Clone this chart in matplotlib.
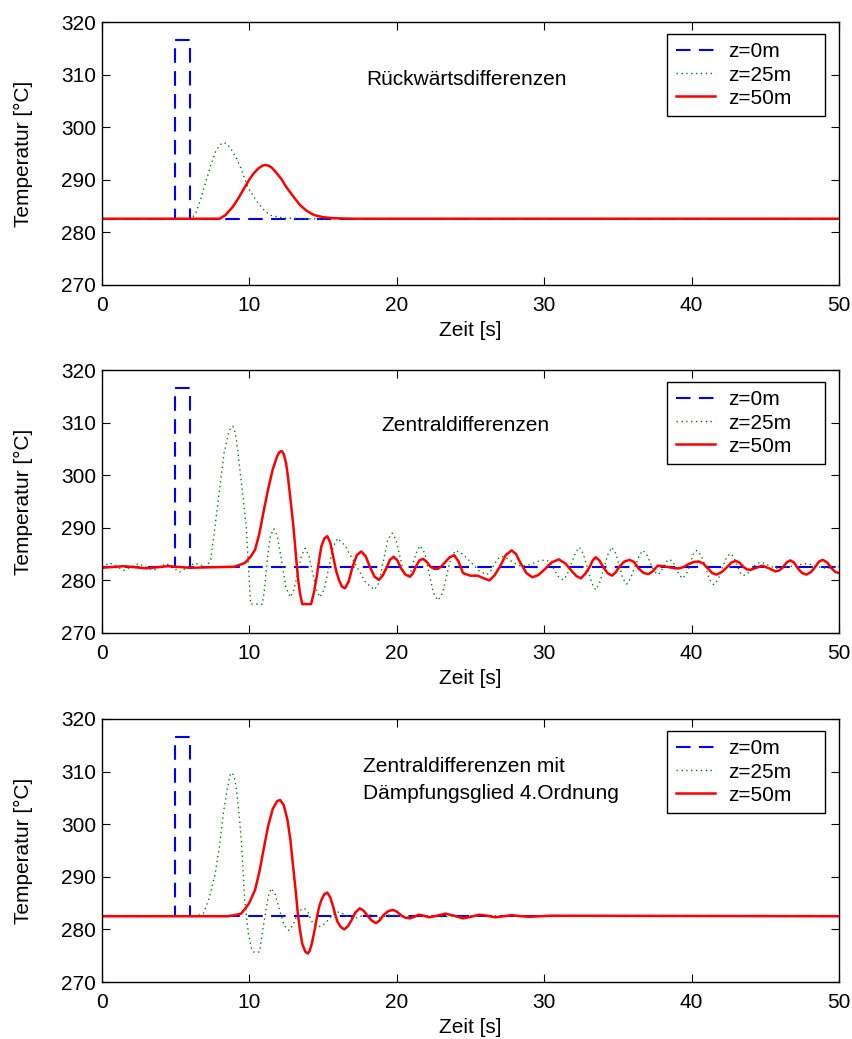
import matplotlib
matplotlib.use('Agg')
import matplotlib.pyplot as plt

# Temperaturverlauf an drei Orten, drei Diskretisierungsverfahren
plt.rcParams['font.family'] = ['Liberation Sans', 'DejaVu Sans']
plt.rcParams['font.size'] = 15

# z=0m: Rechteckimpuls (alle drei Verfahren gleich)
t_z0 = [0, 5, 5, 6, 6, 50]
T_z0 = [282.6, 282.6, 316.5, 316.5, 282.6, 282.6]

# --- Rueckwaertsdifferenzen ---
t1_z25 = [0, 6.1, 6.4, 6.7, 7.1, 7.4, 7.7, 8.0, 8.25, 8.5, 8.8, 9.1, 9.4, 9.9, 10.3,
          10.6, 11.0, 11.4, 12.0, 12.5, 14, 50]
T1_z25 = [282.6, 282.6, 283.8, 286.2, 290.0, 292.8, 295.2, 296.6, 297.1, 296.8, 295.7,
          294.3, 292.5, 288.7, 286.8, 285.6, 284.3, 283.3, 282.9, 282.7, 282.6, 282.6]
t1_z50 = [0, 8.0, 8.4, 8.9, 9.25, 9.6, 10.0, 10.3, 10.6, 10.9, 11.1, 11.3, 11.5, 11.8,
          12.2, 12.5, 13.0, 13.45, 13.9, 14.4, 15.0, 15.7, 17, 50]
T1_z50 = [282.6, 282.6, 283.3, 284.9, 286.4, 288.1, 290.0, 291.2, 292.1, 292.7, 292.8,
          292.7, 292.4, 291.5, 290.1, 288.7, 286.8, 285.2, 284.1, 283.3, 282.9, 282.7,
          282.6, 282.6]

# --- Zentraldifferenzen ---
t2_z25 = [0, 0.56, 1.5, 2.5, 3.5, 4.4, 5.3, 6.3, 7.1, 7.4, 7.7, 8.0, 8.3, 8.6, 8.75,
          8.9, 9.03, 9.15, 9.4, 9.6, 9.8, 9.95, 10.1, 10.9, 11.05, 11.25, 11.45, 11.67,
          11.9, 12.2, 12.5, 12.8, 13.05, 13.3, 13.55, 13.8, 14.05, 14.3, 14.55, 14.8,
          15.1, 15.4, 15.7, 16.0, 16.5, 17.2, 17.9, 18.5, 18.8, 19.1, 19.4, 19.7, 19.95,
          20.2, 20.45, 20.7, 20.95, 21.15, 21.4, 21.6, 21.9, 22.2, 22.5, 22.8, 23.1,
          23.4, 23.7, 24.0, 24.5, 25.05, 25.6, 26.1, 26.35, 26.6, 26.85, 27.1, 27.45,
          27.8, 28.15, 28.5, 28.9, 29.3, 29.7, 30.1, 30.4, 30.7, 31.0, 31.3, 31.55,
          31.85, 32.15, 32.4, 32.65, 32.95, 33.25, 33.5, 33.75, 34.05, 34.35, 34.6,
          34.85, 35.1, 35.35, 35.6, 35.85, 36.15, 36.45, 36.7, 36.95, 37.2, 37.45, 37.7,
          37.9, 38.1, 38.3, 38.5, 38.75, 38.95, 39.2, 39.4, 39.65, 39.9, 40.1, 40.35,
          40.65, 40.95, 41.2, 41.5, 41.8, 42.05, 42.35, 42.6, 42.85, 43.05, 43.3, 43.5,
          43.8, 44.05, 44.35, 44.6, 44.95, 45.25, 45.6, 45.9, 46.4, 46.85, 47.3, 47.8,
          48.15, 48.5, 48.85, 49.2, 50]
T2_z25 = [282.6, 283.3, 281.9, 283.2, 281.9, 283.2, 281.6, 283.3, 282.5, 284.0, 290.6,
          297.5, 304.2, 308.0, 309.0, 309.3, 308.3, 306.5, 300.4, 295.5, 290.3, 283.0,
          275.5, 275.5, 278.5, 284.5, 288.6, 289.8, 288.5, 283.8, 278.6, 276.8, 278.3,
          281.5, 284.7, 286.1, 284.7, 281.5, 278.3, 276.8, 278.4, 282.4, 286.4, 288.0,
          286.6, 283.1, 279.6, 278.2, 279.5, 283.6, 287.7, 289.0, 287.8, 284.8, 281.9,
          280.7, 281.6, 283.7, 285.7, 286.6, 285.2, 281.4, 277.6, 276.2, 277.5, 281.0,
          284.4, 285.7, 285.0, 283.4, 281.8, 281.1, 281.6, 282.9, 284.1, 284.6, 284.3,
          283.6, 283.0, 282.7, 282.9, 283.3, 283.7, 283.9, 283.5, 282.0, 280.6, 280.1,
          281.0, 283.2, 285.4, 286.3, 285.1, 282.3, 279.4, 278.2, 279.4, 282.3, 285.1,
          286.3, 285.2, 282.8, 280.3, 279.3, 280.3, 282.5, 284.7, 285.7, 285.0, 283.4,
          281.8, 281.1, 281.5, 282.6, 283.6, 284.0, 283.5, 282.2, 280.9, 280.4, 281.2,
          283.0, 284.9, 285.7, 284.8, 282.5, 280.2, 279.2, 280.1, 282.2, 284.2, 285.1,
          284.5, 283.0, 281.5, 280.9, 281.3, 282.2, 283.0, 283.4, 283.3, 282.8, 282.4,
          282.3, 282.5, 282.7, 283.0, 283.2, 283.0, 282.7, 282.4, 282.3, 282.6]
t2_z50 = [0, 1.5, 3, 4.5, 6, 7.5, 9.0, 9.7, 10.1, 10.4, 10.7, 11.0, 11.3, 11.6, 11.9,
          12.05, 12.2, 12.35, 12.5, 12.6, 12.8, 13.0, 13.15, 13.3, 13.45, 13.6, 14.2,
          14.4, 14.6, 14.75, 14.9, 15.1, 15.3, 15.5, 15.7, 15.9, 16.1, 16.3, 16.5, 16.75,
          17.0, 17.3, 17.6, 17.9, 18.2, 18.5, 18.8, 19.05, 19.3, 19.55, 19.8, 20.05,
          20.3, 20.6, 20.9, 21.1, 21.3, 21.55, 21.8, 22.05, 22.3, 22.55, 22.8, 23.05,
          23.3, 23.6, 23.9, 24.2, 24.5, 25.0, 25.5, 25.9, 26.3, 26.65, 27.0, 27.4, 27.8,
          28.1, 28.4, 28.8, 29.2, 29.6, 30.0, 30.5, 31.0, 31.45, 31.9, 32.2, 32.5, 32.8,
          33.1, 33.3, 33.5, 33.75, 34.0, 34.3, 34.6, 34.85, 35.1, 35.45, 35.8, 36.1,
          36.4, 36.75, 37.1, 37.4, 37.7, 38.1, 38.5, 38.85, 39.2, 39.5, 39.8, 40.15,
          40.5, 40.8, 41.1, 41.4, 41.7, 42.05, 42.4, 42.7, 43.0, 43.25, 43.5, 43.75,
          44.0, 44.4, 44.8, 45.25, 45.7, 45.95, 46.2, 46.45, 46.7, 46.95, 47.2, 47.5,
          47.8, 48.1, 48.4, 48.65, 48.9, 49.2, 49.5, 49.75, 50.0]
T2_z50 = [282.4, 282.7, 282.3, 282.7, 282.4, 282.5, 282.6, 283.3, 284.5, 285.8, 289.0,
          293.4, 297.5, 301.1, 303.6, 304.4, 304.6, 304.0, 302.3, 300.4, 295.5, 290.3,
          285.5, 280.7, 277.5, 275.5, 275.5, 277.8, 281.0, 284.0, 286.5, 288.0, 288.4,
          287.2, 284.5, 281.8, 280.0, 278.8, 278.5, 279.8, 282.5, 284.8, 285.5, 284.6,
          282.5, 280.7, 280.1, 280.9, 282.3, 283.9, 284.5, 283.8, 282.3, 281.1, 280.7,
          281.3, 282.6, 283.8, 284.1, 283.5, 282.6, 282.2, 282.2, 282.7, 283.5, 284.4,
          284.8, 283.6, 281.4, 280.9, 280.9, 280.4, 280.0, 281.0, 282.6, 284.8, 285.7,
          285.0, 283.3, 281.4, 280.6, 281.0, 282.0, 283.4, 284.0, 283.2, 281.7, 280.8,
          280.4, 281.3, 282.6, 283.8, 284.4, 283.8, 282.6, 281.4, 280.9, 281.5, 282.6,
          283.6, 283.9, 283.5, 282.3, 281.4, 281.2, 281.8, 282.8, 282.7, 282.5, 282.3,
          282.3, 282.6, 283.1, 283.5, 283.6, 283.2, 282.3, 281.4, 281.1, 281.6, 282.5,
          283.4, 283.7, 283.4, 282.6, 282.1, 282.0, 282.4, 282.8, 282.3, 281.7, 281.9,
          282.5, 283.4, 283.8, 283.4, 282.3, 281.4, 281.1, 281.6, 282.6, 283.6, 283.9,
          283.4, 282.3, 281.6, 281.4]

# --- Zentraldifferenzen mit Daempfungsglied ---
t3_z25 = [0, 6.1, 6.5, 6.9, 7.3, 7.7, 8.0, 8.25, 8.5, 8.7, 8.85, 9.0, 9.15, 9.35, 9.5,
          9.7, 9.95, 10.15, 10.3, 10.7, 10.9, 11.1, 11.3, 11.5, 11.75, 12.0, 12.3, 12.5,
          12.7, 12.95, 13.2, 13.5, 13.75, 14.0, 14.2, 14.45, 14.7, 15.0, 15.3, 15.65,
          16.0, 16.3, 16.6, 17.0, 17.3, 17.65, 18.0, 18.4, 18.8, 19.2, 19.6, 20.5, 21.5,
          23, 25, 50]
T3_z25 = [282.5, 282.5, 282.6, 283.0, 286.0, 290.6, 296.0, 302.1, 306.5, 309.3, 309.8,
          308.8, 306.5, 301.0, 295.7, 285.5, 279.2, 276.5, 275.7, 275.7, 279.5, 283.0,
          286.3, 287.8, 286.8, 284.3, 281.4, 280.2, 279.8, 280.7, 282.4, 283.7, 284.0,
          283.2, 281.7, 280.8, 280.5, 280.8, 281.6, 282.8, 283.3, 283.1, 282.5, 282.2,
          282.2, 282.6, 282.9, 282.6, 282.2, 282.5, 282.8, 282.3, 282.7, 282.4, 282.6,
          282.5]
t3_z50 = [0, 8.5, 9.0, 9.45, 9.75, 10.0, 10.4, 10.7, 11.0, 11.3, 11.6, 11.9, 12.1,
          12.35, 12.6, 12.8, 12.96, 13.15, 13.3, 13.45, 13.6, 13.8, 13.98, 14.1, 14.25,
          14.45, 14.6, 14.75, 14.9, 15.1, 15.3, 15.5, 15.7, 15.85, 16.0, 16.2, 16.45,
          16.7, 16.95, 17.2, 17.5, 17.75, 18.0, 18.3, 18.6, 18.85, 19.1, 19.45, 19.75,
          20.0, 20.3, 20.6, 20.9, 21.2, 21.5, 21.85, 22.2, 22.75, 23.3, 23.9, 24.5,
          25.05, 25.6, 26.15, 26.7, 27.25, 27.8, 28.4, 29, 30.5, 50]
T3_z50 = [282.5, 282.5, 282.7, 283.0, 284.0, 285.0, 287.5, 291.0, 295.5, 299.8, 302.9,
          304.4, 304.6, 303.6, 300.8, 297.0, 292.5, 287.5, 283.0, 279.8, 277.3, 275.8,
          275.4, 275.9, 277.3, 280.0, 282.4, 284.3, 285.6, 286.7, 287.0, 286.1, 284.3,
          282.7, 281.4, 280.5, 280.0, 280.6, 281.8, 283.2, 284.0, 283.6, 282.7, 281.7,
          281.2, 281.7, 282.7, 283.5, 283.7, 283.4, 282.7, 282.2, 282.1, 282.4, 282.8,
          282.6, 282.3, 282.6, 283.0, 282.6, 282.1, 282.4, 282.8, 282.6, 282.3, 282.5,
          282.7, 282.5, 282.4, 282.6, 282.5]

panels = [
    (t1_z25, T1_z25, t1_z50, T1_z50, ['Rückwärtsdifferenzen'], 17.97, [308.0]),
    (t2_z25, T2_z25, t2_z50, T2_z50, ['Zentraldifferenzen'], 18.99, [308.4]),
    (t3_z25, T3_z25, t3_z50, T3_z50,
     ['Zentraldifferenzen mit', 'Dämpfungsglied 4.Ordnung'], 17.74, [309.9, 304.7]),
]

fig = plt.figure(figsize=(8.53, 10.39), dpi=100)
bottoms = [1 - 285/1039, 1 - 633/1039, 1 - 982/1039]

for (t25, T25, t50, T50, lines, tx, tys), b in zip(panels, bottoms):
    ax = fig.add_axes([0.1192, b, 0.8644, 263/1039])
    ax.plot(t_z0, T_z0, color='b', ls=(0, (7, 4)), lw=1.5, label='z=0m')
    ax.plot(t25, T25, color=(0, 0.5, 0), ls=(0, (1, 2.5)), lw=1.0, label='z=25m')
    ax.plot(t50, T50, color='r', lw=1.8, label='z=50m')

    ax.set_xlim(0, 50)
    ax.set_ylim(270, 320)
    ax.set_xticks(range(0, 51, 10))
    ax.set_yticks(range(270, 321, 10))
    ax.tick_params(direction='in', top=True, right=True, length=5.5, width=0.8)
    ax.tick_params(axis='x', pad=8)
    ax.tick_params(axis='y', pad=4)
    for s in ax.spines.values():
        s.set_linewidth(1.0)

    ax.set_xlabel('Zeit [s]')
    ax.xaxis.set_label_coords(0.5, -0.135)
    ax.set_ylabel('Temperatur [°C]')
    ax.yaxis.set_label_coords(-0.093, 0.5)

    for line, ty in zip(lines, tys):
        ax.text(tx, ty, line, va='baseline', ha='left')

    leg = ax.legend(loc='upper left', bbox_to_anchor=(0.767, 0, 0.214, 0.954),
                    mode='expand', borderaxespad=0, fancybox=False, edgecolor='k',
                    framealpha=1, handlelength=1.9, handletextpad=0.6,
                    labelspacing=0.2, borderpad=0.4)
    leg.get_frame().set_linewidth(1.0)

fig.savefig('out.png', dpi=100)
